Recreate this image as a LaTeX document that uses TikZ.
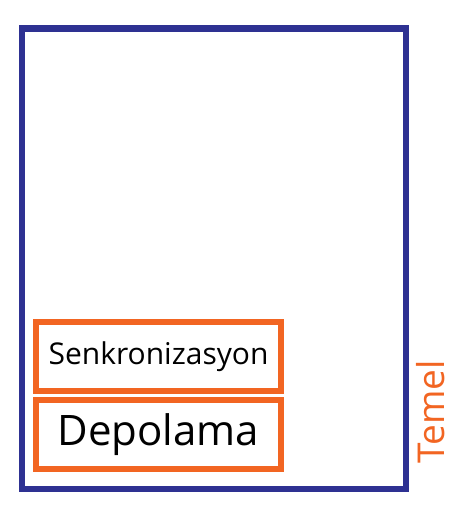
\documentclass[tikz,border=0pt]{standalone}
\usepackage{fontspec}
\setmainfont{Open Sans}
\usepackage{xcolor}
\usepackage{tikz}
\usetikzlibrary{positioning}
\definecolor{LayerBlue}{RGB}{46,49,146}
\definecolor{LayerOrange}{RGB}{242,101,34}

\begin{document}
\begin{tikzpicture}[x=1pt, y=-1pt,
            frame/.style={rectangle, draw=LayerBlue, line width=6.5pt,
                          minimum width=384pt, minimum height=460.5pt, inner sep=0pt},
            layer/.style={rectangle, draw=LayerOrange, line width=6pt,
                          minimum width=245pt, minimum height=69pt, inner sep=0pt,
                          align=center}
          ]
          \useasboundingbox (0,0) rectangle (471,515);
          \node[frame] (base) at (214, 258.75) {};
          \node[layer, font=\fontsize{30}{32}\selectfont] (sync) at (158.5, 356.5) {Senkronizasyon};
          \node[layer, font=\fontsize{42}{44}\selectfont] (store) at (158.5, 434.5) {Depolama};
          \node[rotate=90, text=LayerOrange, font=\fontsize{37}{40}\selectfont,
                inner sep=0pt] (temel) at (431, 411.5) {Temel};
        \end{tikzpicture}
\end{document}
